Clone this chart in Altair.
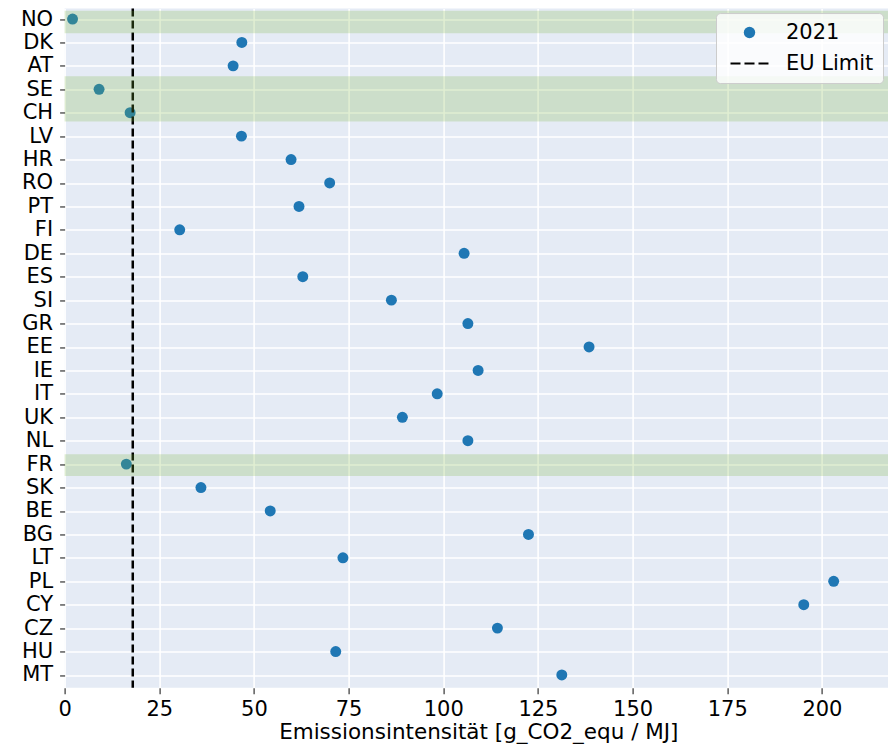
import altair as alt
import pandas as pd

countries = ["NO", "DK", "AT", "SE", "CH", "LV", "HR", "RO", "PT", "FI",
             "DE", "ES", "SI", "GR", "EE", "IE", "IT", "UK", "NL", "FR",
             "SK", "BE", "BG", "LT", "PL", "CY", "CZ", "HU", "MT"]
values_2021 = [2.1, 46.8, 44.5, 9.1, 17.3, 46.7, 59.8, 70.0, 61.9, 30.4,
               105.5, 62.9, 86.3, 106.5, 138.5, 109.2, 98.4, 89.2, 106.5, 16.3,
               36.0, 54.3, 122.5, 73.5, 203.1, 195.2, 114.3, 71.6, 131.3]
eu_limit = [18.0]
band_start = [-0.35, 2.44, 18.58]
band_end = [0.61, 4.37, 19.51]
x_ticks = [0, 25, 50, 75, 100, 125, 150, 175, 200]
series_names = ["2021", "EU Limit"]

FONT = "DejaVu Sans"
W = 827.4
H = 679.4

pts = pd.DataFrame({
    "country": countries,
    "idx": list(range(len(countries))),
    "value": values_2021,
    "series": [series_names[0]] * len(countries),
})
lim = pd.DataFrame({"limit": eu_limit})
bands = pd.DataFrame({"start": band_start, "end": band_end})

label_expr = "[" + ",".join("'" + c + "'" for c in countries) + "][datum.value]"

x_scale = alt.Scale(domain=[0, 218.5], nice=False, zero=False)
y_scale = alt.Scale(domain=[-0.45, 28.55], nice=False, zero=False, reverse=True)

dash_path = ("M-3.33,-0.18H-1.58V0.18H-3.33Z "
             "M-0.88,-0.18H0.88V0.18H-0.88Z "
             "M1.58,-0.18H3.33V0.18H1.58Z")

x_axis = alt.Axis(values=x_ticks, title="Emissionsintensität [g_CO2_equ / MJ]",
                  grid=True, gridColor="white", gridWidth=1.6, domain=False,
                  ticks=True, tickSize=6, tickColor="#333333", tickWidth=1.2,
                  labelFont=FONT, labelFontSize=21, labelColor="black",
                  labelBaseline="alphabetic", labelPadding=22.1, labelOverlap=False,
                  labelFlush=False,
                  titleFont=FONT, titleFontSize=21.5, titleFontWeight="normal",
                  titleColor="black", titleBaseline="alphabetic", titleY=51)
y_axis = alt.Axis(values=list(range(len(countries))), labelExpr=label_expr,
                  title=None, grid=True, gridColor="white", gridWidth=1.6,
                  domain=False, ticks=True, tickSize=5, tickColor="#333333",
                  tickWidth=1.2, labelFont=FONT, labelFontSize=21,
                  labelColor="black", labelPadding=7, labelOverlap=False,
                  labelFlush=False)

legend = alt.Legend(title=None, orient="none", legendX=651.4, legendY=4.6,
                    fillColor="rgba(255,255,255,0.8)", strokeColor="#cccccc",
                    cornerRadius=4, padding=9, labelFont=FONT, labelFontSize=21,
                    labelColor="black", symbolSize=130, symbolOffset=14,
                    labelOffset=26, rowPadding=9, symbolStrokeWidth=0)

points = alt.Chart(pts).mark_point(filled=True, size=120, opacity=1).encode(
    x=alt.X("value:Q", scale=x_scale, axis=x_axis),
    y=alt.Y("idx:Q", scale=y_scale, axis=y_axis),
    color=alt.Color("series:N",
                    scale=alt.Scale(domain=series_names, range=["#1f77b4", "#000000"]),
                    legend=legend),
    shape=alt.Shape("series:N",
                    scale=alt.Scale(domain=series_names, range=["circle", dash_path]),
                    legend=legend),
)

rule = alt.Chart(lim).mark_rule(color="black", strokeWidth=2.5, strokeDash=[8, 4]).encode(
    x=alt.X("limit:Q", scale=x_scale, axis=x_axis),
)

band_layer = alt.Chart(bands).mark_rect(color="#78b43c", opacity=0.23).encode(
    y=alt.Y("start:Q", scale=y_scale, axis=y_axis),
    y2="end:Q",
)

chart = alt.layer(points, rule, band_layer).properties(
    width=W, height=H,
    background="white",
    autosize=alt.AutoSizeParams(type="none"),
    padding={"left": 56.6, "top": 0.46, "right": -4, "bottom": 56.1},
).configure_view(
    fill="#E5EBF5", stroke=None,
)

chart.save("out.html", embed_options={"renderer": "svg", "actions": False})
